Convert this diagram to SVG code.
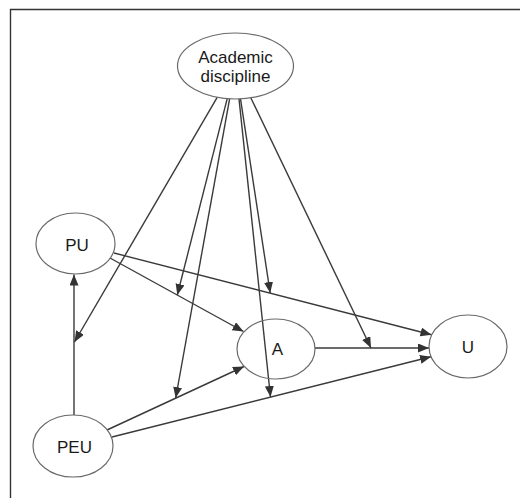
<svg xmlns="http://www.w3.org/2000/svg" width="520" height="498" viewBox="0 0 520 498">
<style>
.node ellipse{fill:none;stroke:#6a6a6a;stroke-width:1.2}
.node text{font-family:"Liberation Sans",Arial,sans-serif;font-size:17px;fill:#1a1a1a;text-anchor:middle}
.edge{stroke:#3a3a3a;stroke-width:1.4;fill:none;marker-end:url(#ah)}
</style>
<defs>
<marker id="ah" markerUnits="userSpaceOnUse" markerWidth="12" markerHeight="10" refX="11" refY="4.5" orient="auto">
<path d="M0,0 L11,4.5 L0,9 z" fill="#333"/>
</marker>
</defs>
<rect width="520" height="498" fill="#fff"/>
<path d="M10.5,498 V9.5 H520" fill="none" stroke="#333" stroke-width="1.4"/>
<g id="connectors">
<line class="edge" x1="74" y1="415" x2="74" y2="274.5"/>
<line class="edge" x1="110" y1="258" x2="243.5" y2="331.5"/>
<line class="edge" x1="114" y1="253" x2="431.5" y2="334.7"/>
<line class="edge" x1="107" y1="430" x2="244" y2="366.5"/>
<line class="edge" x1="112" y1="437" x2="431" y2="356.8"/>
<line class="edge" x1="315" y1="348" x2="429" y2="348"/>
<line class="edge" x1="217.2" y1="97.3" x2="74.5" y2="342"/>
<line class="edge" x1="227.2" y1="98.7" x2="177.3" y2="295"/>
<line class="edge" x1="229.6" y1="98.8" x2="175.7" y2="398"/>
<line class="edge" x1="240.5" y1="98.9" x2="270.2" y2="293"/>
<line class="edge" x1="239" y1="98.9" x2="270.5" y2="397"/>
<line class="edge" x1="250.8" y1="97.8" x2="371" y2="348"/>
</g>
<g id="academic" class="node">
<ellipse cx="235.5" cy="66" rx="58" ry="33"/>
<text x="235.5" y="63">Academic</text>
<text x="235.5" y="82">discipline</text>
</g>
<g id="PU" class="node">
<ellipse cx="75.5" cy="243.5" rx="39.5" ry="30.5"/>
<text x="77" y="251">PU</text>
</g>
<g id="PEU" class="node">
<ellipse cx="73" cy="446" rx="40" ry="31"/>
<text x="74.5" y="453">PEU</text>
</g>
<g id="A" class="node">
<ellipse cx="276" cy="349" rx="39" ry="30"/>
<text x="277.5" y="355">A</text>
</g>
<g id="U" class="node">
<ellipse cx="468" cy="346.5" rx="39" ry="31.5"/>
<text x="468" y="353">U</text>
</g>
</svg>
